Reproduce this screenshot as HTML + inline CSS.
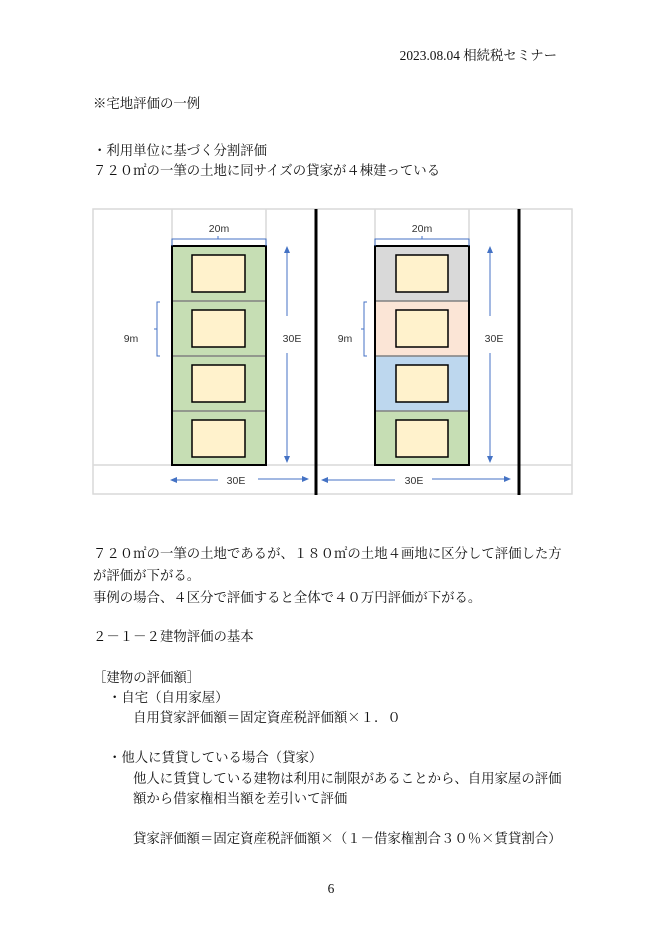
<!DOCTYPE html>
<html><head><meta charset="utf-8"><style>
body{margin:0;background:#fff;}
svg{display:block}
.t{font-family:"Liberation Serif","Noto Serif CJK SC","Noto Serif CJK JP",serif;font-size:13.4px;fill:#111}
.x{font-family:"Noto Serif CJK JP","Noto Sans CJK JP",serif}
.s{font-family:"Liberation Sans","Noto Sans CJK JP",sans-serif;font-size:10.5px;fill:#333}
</style></head><body>
<svg width="662" height="941" viewBox="0 0 662 941">
<text class="t" x="557" y="60" text-anchor="end">2023.08.04 相続税セミナー</text>
<text class="t" x="93" y="108">※宅地評価の一例</text>
<text class="t" x="93" y="155">・利用単位に基づく分割評価</text>
<text class="t" x="93" y="175">７２０㎡の一筆の土地に同サイズの貸家が４棟建っている</text>

<g fill="none" stroke="#d9d9d9" stroke-width="1.5">
<rect x="93" y="209" width="479" height="285"/>
<line x1="172" y1="209" x2="172" y2="465"/><line x1="266" y1="209" x2="266" y2="465"/>
<line x1="375" y1="209" x2="375" y2="465"/><line x1="469" y1="209" x2="469" y2="465"/>
<line x1="93" y1="465" x2="572" y2="465"/>
</g>
<line x1="316" y1="209" x2="316" y2="495" stroke="#000" stroke-width="3"/>
<line x1="519" y1="209" x2="519" y2="495" stroke="#000" stroke-width="3"/>

<rect x="172" y="246" width="94" height="219" fill="#c6deb4"/>
<g stroke="#808080" stroke-width="1.5"><line x1="172" y1="301" x2="266" y2="301"/><line x1="172" y1="356" x2="266" y2="356"/><line x1="172" y1="411" x2="266" y2="411"/></g>
<rect x="172" y="246" width="94" height="219" fill="none" stroke="#000" stroke-width="2"/>
<g fill="#fff2cc" stroke="#000" stroke-width="1.5">
<rect x="192" y="255" width="53" height="37"/><rect x="192" y="310" width="53" height="37"/><rect x="192" y="365" width="53" height="37"/><rect x="192" y="420" width="53" height="37"/>
</g>
<rect x="375" y="246" width="94" height="55" fill="#d9d9d9"/>
<rect x="375" y="301" width="94" height="55" fill="#fbe5d6"/>
<rect x="375" y="356" width="94" height="55" fill="#bdd7ee"/>
<rect x="375" y="411" width="94" height="54" fill="#c6deb4"/>
<g stroke="#808080" stroke-width="1.5"><line x1="375" y1="301" x2="469" y2="301"/><line x1="375" y1="356" x2="469" y2="356"/><line x1="375" y1="411" x2="469" y2="411"/></g>
<rect x="375" y="246" width="94" height="219" fill="none" stroke="#000" stroke-width="2"/>
<g fill="#fff2cc" stroke="#000" stroke-width="1.5">
<rect x="396" y="255" width="52" height="37"/><rect x="396" y="310" width="52" height="37"/><rect x="396" y="365" width="52" height="37"/><rect x="396" y="420" width="52" height="37"/>
</g>

<g fill="none" stroke="#4472c4" stroke-width="1">
<path d="M172 246 V239 H218 V236 M218 239 H266 V246"/>
<path d="M375 246 V239 H422 V236 M422 239 H469 V246"/>
<path d="M160 302 H157 V329 H154 M157 329 V356 H160"/>
<path d="M367 302 H364 V329 H361 M364 329 V356 H367"/>
<line x1="287" y1="252" x2="287" y2="316"/><line x1="287" y1="353" x2="287" y2="460"/>
<line x1="490" y1="252" x2="490" y2="316"/><line x1="490" y1="353" x2="490" y2="460"/>
<line x1="175" y1="480" x2="218" y2="480"/><line x1="258" y1="479" x2="303" y2="479"/>
<line x1="327" y1="480" x2="395" y2="480"/><line x1="432" y1="479" x2="505" y2="479"/>
</g>
<g fill="#4472c4">
<path d="M287 246 l-3 7 h6z"/><path d="M287 463 l-3 -7 h6z"/>
<path d="M490 246 l-3 7 h6z"/><path d="M490 463 l-3 -7 h6z"/>
<path d="M170 480 l7 -3 v6z"/><path d="M309 479 l-7 -3 v6z"/>
<path d="M321 480 l7 -3 v6z"/><path d="M511 479 l-7 -3 v6z"/>
</g>
<text class="s" x="219" y="232" text-anchor="middle">20m</text>
<text class="s" x="422" y="232" text-anchor="middle">20m</text>
<text class="s" x="131" y="342" text-anchor="middle">9m</text>
<text class="s" x="345" y="342" text-anchor="middle">9m</text>
<text class="s" x="292" y="342" text-anchor="middle">30E</text>
<text class="s" x="494" y="342" text-anchor="middle">30E</text>
<text class="s" x="236" y="484" text-anchor="middle">30E</text>
<text class="s" x="414" y="484" text-anchor="middle">30E</text>

<text class="t" x="93" y="558">７２０㎡の一筆の土地であるが、１８０㎡の土地４画地に区分して評価した方</text>
<text class="t" x="93" y="580">が評価が下がる。</text>
<text class="t" x="93" y="602">事例の場合、４区分で評価すると全体で４０万円評価が下がる。</text>
<text class="t" x="93" y="641">２－１－２建物評価の基本</text>
<text class="t" x="93" y="682">［建物の評価額］</text>
<text class="t" x="108" y="702">・自宅（自用家屋）</text>
<text class="t" x="133" y="722">自用貸家評価額＝固定資産税評価額<tspan class="x">×</tspan>１．０</text>
<text class="t" x="108" y="762">・他人に賃貸している場合（貸家）</text>
<text class="t" x="133" y="783">他人に賃貸している建物は利用に制限があることから、自用家屋の評価</text>
<text class="t" x="133" y="803">額から借家権相当額を差引いて評価</text>
<text class="t" x="133" y="843">貸家評価額＝固定資産税評価額<tspan class="x">×</tspan>（１－借家権割合３０％<tspan class="x">×</tspan>賃貸割合）</text>
<text class="t" x="331" y="893" text-anchor="middle">6</text>
</svg>
</body></html>
